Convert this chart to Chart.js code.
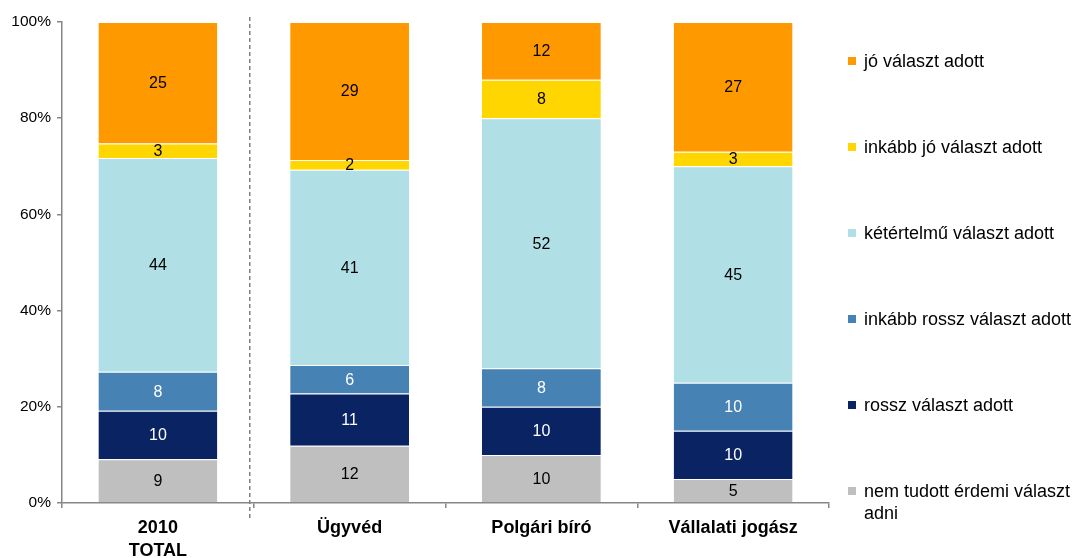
<!DOCTYPE html>
<html lang="hu">
<head>
<meta charset="UTF-8">
<title>Válaszok megoszlása</title>
<script src="https://cdn.jsdelivr.net/npm/chart.js@4.4.1/dist/chart.umd.min.js"></script>
<style>
  html, body { margin: 0; padding: 0; background: #fff; }
  #wrap { width: 1078px; height: 558px; }
</style>
</head>
<body>
<div id="wrap"><canvas id="chart" width="1078" height="558"></canvas></div>
<script>
// categories
const categories = [['2010', 'TOTAL'], 'Ügyvéd', 'Polgári bíró', 'Vállalati jogász'];

// series, bottom to top
const seriesNames = [
  ['nem tudott érdemi választ', 'adni'],
  'rossz választ adott',
  'inkább rossz választ adott',
  'kétértelmű választ adott',
  'inkább jó választ adott',
  'jó választ adott'
];
const nemTudott    = [9, 12, 10, 5];
const rossz        = [10, 11, 10, 10];
const inkabbRossz  = [8, 6, 8, 10];
const keterelmu    = [44, 41, 52, 45];
const inkabbJo     = [3, 2, 8, 3];
const jo           = [25, 29, 12, 27];
const seriesValues = [nemTudott, rossz, inkabbRossz, keterelmu, inkabbJo, jo];

const yTicks = [0, 20, 40, 60, 80, 100];

const colors = ['#BFBFBF', '#0A2463', '#4682B4', '#B0DFE5', '#FFD600', '#FF9900'];
const labelColors = ['#000', '#fff', '#fff', '#000', '#000', '#000'];

// 100% stacked: each column scaled to its own total
const totals = categories.map((c, i) => seriesValues.reduce((s, arr) => s + arr[i], 0));

const datasets = seriesValues.map((vals, k) => ({
  label: seriesNames[k],
  raw: vals,
  data: vals.map((v, i) => v / totals[i] * 100),
  backgroundColor: colors[k],
  borderColor: '#ffffff',
  borderWidth: { top: 1, bottom: 0, left: 0, right: 0 },
  borderSkipped: false,
  barPercentage: 0.62,
  categoryPercentage: 1.0
}));

// value labels inside segments
const valueLabels = {
  id: 'valueLabels',
  afterDatasetsDraw(chart) {
    const ctx = chart.ctx;
    ctx.save();
    ctx.font = '16px "Liberation Sans", Arial, sans-serif';
    ctx.textAlign = 'center';
    ctx.textBaseline = 'middle';
    chart.data.datasets.forEach((ds, k) => {
      chart.getDatasetMeta(k).data.forEach((bar, i) => {
        const mid = (bar.y + bar.base) / 2;
        ctx.fillStyle = labelColors[k];
        ctx.fillText(String(ds.raw[i]), bar.x, mid + 1);
      });
    });
    ctx.restore();
  }
};

// dashed separator after the first category
const separator = {
  id: 'separator',
  afterDraw(chart) {
    const x = chart.scales.x;
    const px = (x.getPixelForValue(0) + x.getPixelForValue(1)) / 2 - 4;
    const ctx = chart.ctx;
    ctx.save();
    ctx.strokeStyle = '#808080';
    ctx.lineWidth = 1.5;
    ctx.setLineDash([4, 3]);
    ctx.beginPath();
    ctx.moveTo(px, 17);
    ctx.lineTo(px, 520);
    ctx.stroke();
    ctx.restore();
  }
};

// legend on the right, top entry = top series
const sideLegend = {
  id: 'sideLegend',
  afterDraw(chart) {
    const ctx = chart.ctx;
    ctx.save();
    ctx.font = '18px "Liberation Sans", Arial, sans-serif';
    ctx.textBaseline = 'middle';
    ctx.textAlign = 'left';
    const n = seriesNames.length;
    for (let j = 0; j < n; j++) {
      const k = n - 1 - j;
      const y = 61 + j * 86;
      ctx.fillStyle = colors[k];
      ctx.fillRect(848, y - 4, 8, 8);
      ctx.fillStyle = '#000';
      const lines = Array.isArray(seriesNames[k]) ? seriesNames[k] : [seriesNames[k]];
      lines.forEach((t, li) => ctx.fillText(t, 864, y + 1 + li * 22));
    }
    ctx.restore();
  }
};

new Chart(document.getElementById('chart'), {
  type: 'bar',
  data: { labels: categories, datasets: datasets },
  plugins: [valueLabels, separator, sideLegend],
  options: {
    responsive: false,
    animation: false,
    layout: { padding: { top: 22, right: 249, left: 0, bottom: 0 } },
    plugins: { legend: { display: false }, tooltip: { enabled: false } },
    scales: {
      x: {
        stacked: true,
        offset: true,
        grid: { offset: true, drawOnChartArea: false, drawTicks: true, tickLength: 5, color: '#868686', lineWidth: 1.5 },
        border: { display: true, color: '#868686', width: 1.5 },
        ticks: {
          color: '#000',
          padding: 8,
          font: { family: '"Liberation Sans", Arial, sans-serif', size: 18, weight: 'bold', lineHeight: 1.3 },
          maxRotation: 0
        },
        afterFit(scale) { scale.height = 55; }
      },
      y: {
        stacked: true,
        min: 0,
        max: 100,
        afterBuildTicks(scale) { scale.ticks = yTicks.map(v => ({ value: v })); },
        grid: { drawOnChartArea: false, drawTicks: true, tickLength: 5, color: '#868686', lineWidth: 1.5 },
        border: { display: true, color: '#868686', width: 1.5 },
        ticks: {
          color: '#000',
          padding: 6,
          font: { family: '"Liberation Sans", Arial, sans-serif', size: 15.5 },
          callback: v => v + '%'
        },
        afterFit(scale) { scale.width = 62; }
      }
    }
  }
});
</script>
</body>
</html>
